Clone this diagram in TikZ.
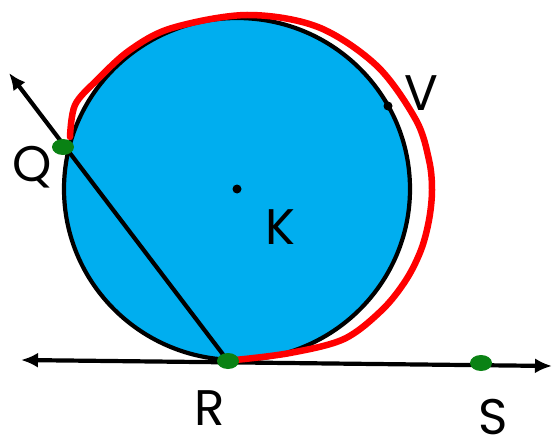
\documentclass[tikz,border=0pt]{standalone}
\usepackage{fontspec}
\usetikzlibrary{arrows.meta}
\setmainfont{Poppins}
\begin{document}
\begin{tikzpicture}[x=1pt,y=-1pt,font=\fontsize{50}{60}\selectfont,>={Latex[length=17pt,width=15pt]}]
\definecolor{ciel}{RGB}{0,174,239}
\definecolor{rouge}{RGB}{255,0,0}
\definecolor{vert}{RGB}{10,130,20}
\tikzset{
  trait/.style={black,line width=4.2pt},
  tache/.style={fill=vert,x radius=11,y radius=8},
  lettre/.style={inner sep=0pt}
}
\useasboundingbox (0,0) rectangle (554,441);
% points
\coordinate (K) at (237,189);
\coordinate (Q) at (63,147);
\coordinate (R) at (228,361);
\coordinate (S) at (481,363);
\coordinate (V) at (388,106);
\coordinate (g) at (21,360);
\coordinate (d) at (552,366);
\coordinate (h) at (9,73);
% cercle
\draw[trait,fill=ciel] (K) ellipse [x radius=173,y radius=171];
\draw[trait,<->] (g) -- (d);
\draw[trait,->] (R) -- (h);
\fill (K) circle (4.5);
\fill (V) circle (4.5);
% arc rouge
\draw[rouge,line width=6.5pt,line cap=round] plot[smooth,tension=0.55] coordinates {
  (70,137) (75,105) (97,80) (130,50) (172,28) (247,15) (318,27) (377,66)
  (416,120) (429,160) (432,190) (429,220) (421,250) (406,280) (382,310)
  (344,339) (290,353) (235,360)};
\foreach \p in {Q,R,S} {
  \fill[tache] (\p) ellipse [];
}
% lettres
\node[lettre] (lQ) at (32,167) {Q};
\node[lettre] (lR) at (210,408) {R};
\node[lettre] (lS) at (493,417) {S};
\node[lettre] (lK) at (280,227) {K};
\node[lettre] (lV) at (421,93) {V};
\end{tikzpicture}
\end{document}
